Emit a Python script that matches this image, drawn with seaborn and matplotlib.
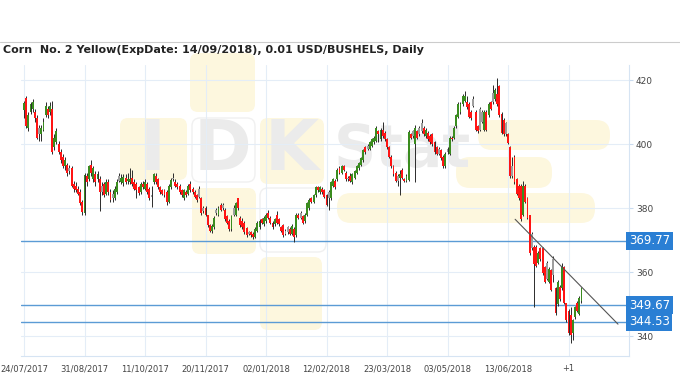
import numpy as np
import pandas as pd
import seaborn as sns
import matplotlib.pyplot as plt
from matplotlib.patches import FancyBboxPatch
from matplotlib.transforms import IdentityTransform, blended_transform_factory

# daily candles, 24/07/2017 onwards
opens = [
    410.6, 414.5, 405, 410, 411, 410, 408, 405, 403, 404.5,
    409, 411, 410, 411, 399, 400.5, 400, 397.5, 396, 393,
    393.4, 392.5, 392.5, 387.5, 387, 386, 385, 382, 378.5, 390,
    389, 393.5, 389, 390.5, 389, 389, 387, 387.5, 384.5, 388,
    385, 384.5, 383, 385, 390, 388, 387.8, 389.5, 388.5, 388,
    389.5, 388, 387.5, 386.6, 385, 387.5, 386, 387.5, 386, 384,
    388, 390, 389, 386.5, 385.5, 385.6, 385, 382, 386.6, 389.5,
    388, 387.5, 387, 385.6, 383, 385, 384.5, 387.5, 386, 385,
    384, 386, 383, 380, 380, 377.8, 374.7, 373, 374, 379.5,
    378, 381, 381, 379.5, 377.5, 376, 373.6, 380, 378, 383,
    377, 376, 375.3, 373.7, 372.5, 372.5, 372, 371, 373, 374,
    376.5, 375, 376, 378.5, 377, 375.5, 375, 378, 376.5, 374,
    374.7, 373, 374, 373.5, 372, 373.5, 371.5, 378, 378.5, 377.5,
    376, 378, 380, 383, 382, 384, 386.5, 385, 386, 385.5,
    384, 385, 383, 387, 388.5, 389, 392.5, 391, 393, 391,
    389.5, 390, 388, 389.5, 391, 392.5, 393.5, 395, 399, 399.5,
    398.5, 399.5, 400.5, 401, 404, 401.5, 404.5, 403.5, 401.5, 399,
    396, 393, 391, 390, 389.5, 392, 389, 388.5, 388.8, 403,
    404, 400, 404, 405, 406.5, 405, 402.5, 403.5, 402.5, 403,
    400.5, 399, 398.5, 398, 396, 393, 398.5, 397, 402, 402,
    405.5, 408.5, 410, 412.5, 413.5, 413, 412.5, 410, 414, 410,
    405.5, 411, 410, 404.5, 410, 409, 413, 416, 414, 415.5,
    418, 409.5, 407.5, 406.5, 403, 399, 393, 396, 389, 387,
    387, 378, 387, 383, 377.8, 372, 368, 368, 363, 367.5,
    367.5, 361.6, 363, 357, 360.6, 364, 355, 350, 355.5, 355,
    361.5, 350.3, 348, 346.5, 341, 346, 350.5, 347, 351,
]
closes = [
    412.8, 405.5, 409, 412.5, 413, 408, 402, 403, 405, 407,
    412, 409, 412, 397.5, 402, 404, 397.5, 395, 393, 395,
    391, 391.5, 387, 386, 385.6, 384.5, 381.6, 378.8, 390.3, 388,
    393, 391, 392.5, 388, 390.5, 385, 385, 384, 388, 385,
    382.5, 383, 386, 388, 388.5, 389.5, 389.7, 388, 389, 389,
    387.5, 386, 385.8, 384.7, 387.5, 386.5, 388, 385, 383, 383.5,
    390.5, 388, 386.5, 385, 384.5, 384, 382, 387, 388.7, 389,
    387, 386.5, 385, 384, 385.5, 384, 387, 385.5, 385, 383.5,
    382.5, 383.5, 378.5, 379, 377.8, 374.7, 373, 374.5, 377, 378.5,
    380, 379.5, 380, 376.5, 375.5, 373.6, 377.5, 378, 381.6, 380,
    374.7, 374, 372.5, 371.5, 372, 371.5, 371, 373.5, 375.5, 376,
    375.5, 377, 378, 377, 375.5, 374, 376.5, 375.5, 375, 373,
    371.5, 372, 372.5, 372, 374.5, 371, 378, 377, 377, 375.5,
    378, 381.5, 382.5, 382, 384, 386.5, 385.5, 386.5, 385, 383.5,
    381, 383, 388, 389, 386.5, 392, 391, 393, 392, 389,
    389, 388.5, 390.5, 391.5, 393, 394, 395.5, 398, 397.5, 398.5,
    400.5, 401.5, 402, 405, 403, 404.5, 402.5, 401.5, 399, 396,
    393, 390.5, 388.5, 388.5, 390.5, 389.5, 388.5, 390, 403.7, 402,
    402.5, 405, 402, 403, 404, 403, 404.5, 401.5, 400.5, 400,
    397.5, 397, 397, 395.5, 393, 397, 397.5, 402, 401.5, 405,
    409, 412.5, 412.5, 415, 415, 411.5, 408.5, 408, 412, 404.5,
    404, 404.5, 407, 410, 404.5, 412.5, 411, 413, 417, 412.5,
    409, 403.5, 403, 403, 400.3, 390, 390, 388, 384.5, 383,
    376.5, 387, 382, 377, 366, 367.5, 362.5, 362, 366, 364,
    359.7, 357, 358, 361, 354.4, 359, 347.2, 357, 351.5, 361.5,
    350.3, 345, 341, 340.5, 345, 349, 348, 352, 355,
]
highs = [
    413.5, 415, 410, 413, 414, 411, 409, 406, 406, 408,
    413, 412, 413, 413.5, 403, 405, 401, 398.5, 397, 396,
    394, 393.5, 393, 388.5, 388, 387, 386, 382.5, 391, 391,
    393.5, 395, 393, 391.5, 391.5, 390, 388, 388, 389, 389,
    386, 385.5, 387, 389, 391, 390.5, 390.5, 390.5, 391, 392.5,
    392, 389, 388, 387, 388, 388.5, 389, 388, 386.5, 387,
    391, 391, 389.5, 387, 386, 386, 385.5, 387.5, 389.5, 391,
    389, 388, 387.5, 386, 386, 385.5, 387.5, 388.5, 386.5, 385.5,
    384.5, 387, 383.5, 380.5, 380.5, 378, 375, 375, 377.5, 380,
    380.5, 381.5, 381.5, 380, 378, 376.5, 378, 381, 382, 383,
    377.5, 377, 376, 374, 373, 373, 372.5, 374, 376, 376.5,
    377, 377.5, 378.5, 379.5, 377.5, 376, 377, 379, 377, 374.5,
    375, 373.5, 374.5, 374, 375, 374, 378.5, 378.5, 379, 378,
    378.5, 382, 383, 383.5, 384.5, 387, 387, 387, 386.5, 386,
    384.5, 385.5, 388.5, 389.5, 389, 392.5, 393, 393.5, 393.5, 391.5,
    390, 391, 391, 392, 393.5, 394.5, 396, 398.5, 399.5, 400,
    401, 402, 402.5, 405.5, 404.5, 405, 407, 404, 402, 399.5,
    396.5, 393.5, 391.5, 390.5, 392, 392.5, 389.5, 390.5, 404.5, 403.5,
    404.5, 406, 404.5, 405.5, 407.8, 405.5, 405, 404, 403, 403.5,
    401, 399.5, 399, 398.5, 396.5, 397.5, 399, 402.5, 402.5, 405.5,
    409.5, 413, 413, 415.5, 416.5, 415, 413, 410.5, 415, 410.5,
    406, 411.5, 410.5, 410.5, 410.5, 413, 413.5, 418.5, 417.5, 420.6,
    418.5, 410, 408, 407, 403.5, 399.5, 396, 396.5, 389.5, 387.5,
    387.5, 388.5, 387.5, 383.5, 378, 372.5, 368.5, 368.5, 366.5, 368,
    368, 362, 363.5, 361.5, 361, 365, 355.5, 357.5, 356, 363,
    362, 350.5, 348.5, 349, 345.5, 349.5, 351, 352.5, 355.3,
]
lows = [
    408, 405, 404, 409.5, 410, 407, 401.5, 401, 401, 404,
    408.5, 408, 409, 397, 398, 400, 397, 394, 392.5, 392,
    390, 390.5, 386.5, 385, 385, 384, 381, 378, 378, 387,
    388.5, 390, 388, 387, 388, 379, 384, 383.5, 384, 384,
    382, 382, 382.5, 384.5, 388, 387.5, 387, 387.5, 387.5, 387.5,
    387, 385.5, 383, 384, 384.5, 386, 385.5, 384.5, 382.5, 380.3,
    387.5, 387.5, 386, 384.5, 384, 383.5, 381, 381.5, 386, 388.5,
    386.5, 386, 384.5, 383.5, 382.5, 383.5, 384, 385, 384.5, 383,
    382, 383, 378, 378.5, 377.5, 374, 372.5, 372.2, 373.5, 378,
    377.5, 379, 379.5, 376, 375, 373, 373, 377.5, 377.5, 379.5,
    374, 373.5, 372, 371, 371.5, 371, 370.5, 370.6, 372.5, 373.5,
    375, 374.5, 375.5, 376.5, 375, 373.5, 374.5, 375, 374.5, 372.5,
    371, 371.5, 372, 371.5, 371.5, 369.5, 371, 376.5, 376.5, 375,
    375.5, 377.5, 379.5, 381.5, 381.5, 383.5, 385, 384.5, 384.5, 383,
    380.5, 379.4, 382.5, 386.5, 386, 388.5, 390.5, 390.5, 391.5, 388.5,
    388.5, 388, 387.5, 389, 390.5, 392, 393, 394.5, 397, 398,
    398, 399, 400, 400.5, 400.5, 401, 402, 401, 398.5, 395.5,
    392.5, 390, 388, 387, 384, 389, 388, 388, 388.5, 401.5,
    402, 388, 401.5, 402.5, 403.5, 402.5, 402, 401, 400, 399.5,
    397, 396.5, 396.5, 395, 392.5, 392.5, 397, 396.5, 401, 401.5,
    405, 408, 409.5, 412, 413, 411, 408, 407.5, 411.5, 404,
    403.5, 404, 406.5, 404, 404, 408.5, 410.5, 412.5, 413.5, 412,
    408.5, 403, 402.5, 402.5, 400, 389.5, 389.5, 387.5, 384, 382.5,
    376, 377.5, 381.5, 376.5, 365.5, 367, 349, 361.5, 362.5, 363.5,
    359.2, 356.5, 357.5, 356.5, 354, 357, 346.5, 349.5, 351, 354.5,
    350, 344.5, 340.5, 337.8, 338.75, 345.5, 347.5, 346.5, 350.5,
]

date_labels = ["24/07/2017", "31/08/2017", "11/10/2017", "20/11/2017", "02/01/2018",
               "12/02/2018", "23/03/2018", "03/05/2018", "13/06/2018", "+1"]
price_ticks = [340, 360, 380, 400, 420]
levels = [369.77, 349.67, 344.53]
trend_x = [227.3, 274.9]
trend_y = [376.5, 343.75]

df = pd.DataFrame({"open": opens, "close": closes, "high": highs, "low": lows})
df["idx"] = np.arange(len(df))
prev = df["close"].shift(1).fillna(df["open"])
df["kind"] = np.where((df["close"] > df["open"]) & (df["close"] >= prev), "up",
                      np.where((df["close"] < df["open"]) & (df["close"] < prev), "down", "flat"))
df["bottom"] = df[["open", "close"]].min(axis=1)
df["body"] = (df["close"] - df["open"]).abs().clip(lower=0.4)

sns.set_style("white")
W, H = 680, 380
fig = plt.figure(figsize=(W / 100, H / 100), dpi=100)

# faint logo watermark, pixel coords (top-left origin)
def wm_box(x0, y0, x1, y1, fc, ec="none", r=8):
    p = FancyBboxPatch((x0, H - y1), x1 - x0, y1 - y0, boxstyle=f"round,pad=0,rounding_size={r}",
                       transform=IdentityTransform(), fc=fc, ec=ec, lw=1, zorder=-2)
    fig.add_artist(p)

yel = "#fdf7de"
wm_box(190, 53, 255, 112, yel)
wm_box(120, 118, 187, 180, yel)
wm_box(192, 118, 255, 182, "white", "#f0f0f0")
wm_box(260, 118, 324, 184, yel)
wm_box(192, 188, 256, 254, yel)
wm_box(260, 188, 326, 252, "white", "#f0f0f0")
wm_box(260, 257, 322, 330, yel)
wm_box(478, 120, 610, 150, yel, r=14)
wm_box(456, 157, 552, 188, yel, r=14)
wm_box(337, 193, 595, 223, yel, r=14)
for txt, x, fs in [("I", 153, 50), ("D", 223, 50), ("K", 292, 50), ("Stat", 402, 42)]:
    fig.text(x / W, 1 - 150 / H, txt, fontsize=fs, weight="bold", color="#ebebeb",
             ha="center", va="center", zorder=-1)

ax = fig.add_axes([20.8 / W, (H - 356) / H, (629 - 20.8) / W, (356 - 65) / H])
ax.patch.set_alpha(0)

ax.vlines(df["idx"], df["low"], df["high"], color="#2b2b2b", lw=0.7, zorder=3)
palette = {"up": "#3a8c1f", "down": "#ff1414", "flat": "#9e9e9e"}
for kind, col in palette.items():
    sub = df[df["kind"] == kind]
    ax.bar(sub["idx"], sub["body"], bottom=sub["bottom"], width=0.88, color=col, lw=0, zorder=4)

for lv in levels:
    ax.axhline(lv, color="#5b9bd5", lw=1, zorder=2)
    ax.text(1.0, lv, f"{lv:.2f}", transform=blended_transform_factory(ax.transAxes, ax.transData),
            ha="left", va="center", color="white", fontsize=8.5, zorder=6,
            bbox=dict(boxstyle="square,pad=0.22", fc="#2a7fd4", ec="none"))

sns.lineplot(x=trend_x, y=trend_y, ax=ax, color="#555555", lw=0.8, zorder=5)

ax.set_xlim(-1.5, 280)
ax.set_ylim(333.8, 424.7)
ax.set_xticks(np.arange(len(date_labels)) * 28)
ax.set_xticklabels(date_labels)
ax.set_yticks(price_ticks)
ax.yaxis.tick_right()
ax.grid(True, color="#e4edf7", lw=0.8, zorder=0)
ax.tick_params(axis="both", labelsize=6.5, labelcolor="#444444", color="#c9dbef", length=3, pad=2)
ax.tick_params(axis="x", length=0, pad=6, labelsize=6)
for side in ["top", "left"]:
    ax.spines[side].set_visible(False)
for side in ["right", "bottom"]:
    ax.spines[side].set_color("#d6e4f3")

fig.text(3 / W, 1 - 50 / H, "Corn  No. 2 Yellow(ExpDate: 14/09/2018), 0.01 USD/BUSHELS, Daily",
         fontsize=8, weight="bold", color="#222222", va="center")
fig.add_artist(plt.Line2D([0, 1], [1 - 42 / H, 1 - 42 / H], transform=fig.transFigure,
                          color="#cccccc", lw=0.8))

fig.savefig("out.png", dpi=100)
